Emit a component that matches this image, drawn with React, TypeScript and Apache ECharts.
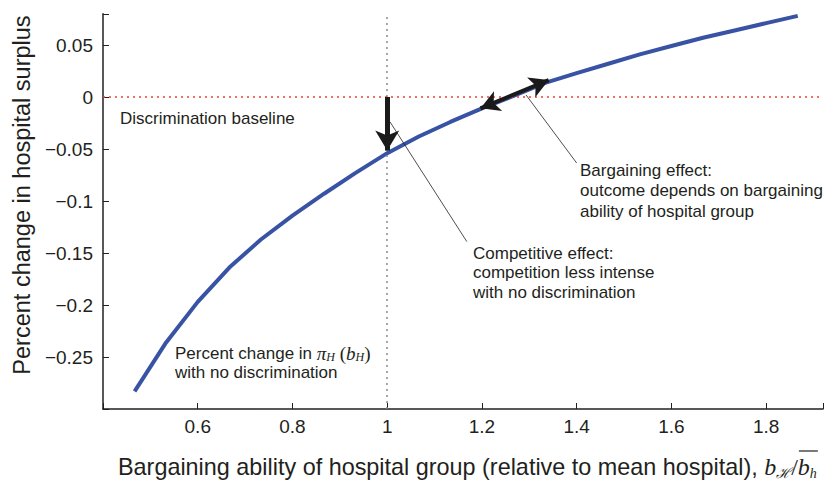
import React, { useEffect, useRef } from "react";
import * as echarts from "echarts";

// Curve: percent change in hospital surplus vs. bargaining ability
const xValues = [0.4667, 0.5333, 0.6, 0.6667, 0.7333, 0.8, 0.8667, 0.9333, 1.0, 1.0667, 1.1333, 1.2, 1.2667, 1.3333, 1.4, 1.4667, 1.5333, 1.6, 1.6667, 1.7333, 1.8, 1.8667];
const yValues = [-0.283, -0.236, -0.197, -0.164, -0.137, -0.114, -0.093, -0.073, -0.054, -0.038, -0.024, -0.011, 0.001, 0.0135, 0.023, 0.032, 0.041, 0.049, 0.057, 0.064, 0.071, 0.078];

// Reference lines
const baselineX = 1;
const baselineY = 0;

// Annotation arrows / leaders (data coordinates)
const competitiveArrow = [[1, 0], [1, -0.0515]];
const bargainingArrow = [[1.197, -0.0109], [1.341, 0.0163]];
const competitiveLeader = [[1.006, -0.024], [1.168, -0.139]];
const bargainingLeader = [[1.293, 0.002], [1.4, -0.0635]];

const yAxisTitle = "Percent change in hospital surplus";
const xAxisTitle = "Bargaining ability of hospital group (relative to mean hospital), ";
const baselineText = "Discrimination baseline";
const competitiveText = ["Competitive effect:", "competition less intense", "with no discrimination"];
const bargainingText = ["Bargaining effect:", "outcome depends on bargaining", "ability of hospital group"];
const curveText = ["Percent change in ", "with no discrimination"];

const INK = "#231f20";
const SANS = "'Liberation Sans', Arial, Helvetica, sans-serif";
const SERIF = "'Liberation Serif', 'DejaVu Serif', serif";

function measure(text: string, font: string): number {
  const c = document.createElement("canvas").getContext("2d");
  if (!c) return text.length * 8;
  c.font = font;
  return c.measureText(text).width;
}

type Seg = { text: string; size: number; family: string; italic?: boolean; dy?: number };

function layoutSegs(segs: Seg[], x0: number, y: number) {
  const out: any[] = [];
  const xs: number[] = [];
  let x = x0;
  for (const s of segs) {
    const font = `${s.italic ? "italic " : ""}${s.size}px ${s.family}`;
    const w = measure(s.text, font);
    xs.push(x);
    out.push({
      type: "text",
      x,
      y: y + (s.dy || 0),
      style: {
        text: s.text,
        fill: INK,
        font,
        align: "left",
        verticalAlign: "middle",
      },
    });
    x += w;
  }
  xs.push(x);
  return { els: out, xs };
}

function fmtNum(v: number): string {
  const s = String(+v.toFixed(3));
  return s.replace("-", "\u2212");
}

export default function App() {
  const ref = useRef<HTMLDivElement>(null);
  useEffect(() => {
    if (!ref.current) return;
    const chart = echarts.init(ref.current, null, { renderer: "svg" });

    const graphics: any[] = [];
    graphics.push({
      type: "text",
      x: 22,
      y: 195,
      rotation: Math.PI / 2,
      style: { text: yAxisTitle, fill: INK, font: `23.5px ${SANS}`, align: "center", verticalAlign: "middle" },
    });
    const xt = layoutSegs(
      [
        { text: xAxisTitle, size: 23.4, family: SANS },
        { text: "b", size: 24, family: SERIF, italic: true },
        { text: "\u210B", size: 14, family: SERIF, italic: true, dy: 6 },
        { text: "/", size: 24, family: SERIF },
        { text: "b", size: 24, family: SERIF, italic: true },
        { text: "h", size: 14, family: SERIF, italic: true, dy: 6 },
      ],
      118,
      467
    );
    graphics.push(...xt.els);
    graphics.push({
      type: "line",
      shape: { x1: xt.xs[4] + 1, y1: 451, x2: xt.xs[6] + 1, y2: 451 },
      style: { stroke: INK, lineWidth: 1.2 },
    });
    graphics.push({
      type: "text",
      x: 120,
      y: 118,
      style: { text: baselineText, fill: INK, font: `17px ${SANS}`, align: "left", verticalAlign: "middle" },
    });
    competitiveText.forEach((t, i) => {
      graphics.push({
        type: "text",
        x: 473,
        y: 253 + i * 19.6,
        style: { text: t, fill: INK, font: `17px ${SANS}`, align: "left", verticalAlign: "middle" },
      });
    });
    bargainingText.forEach((t, i) => {
      graphics.push({
        type: "text",
        x: 580,
        y: 170 + i * 20.5,
        style: { text: t, fill: INK, font: `17px ${SANS}`, align: "left", verticalAlign: "middle" },
      });
    });
    const ct = layoutSegs(
      [
        { text: curveText[0], size: 17, family: SANS },
        { text: "\u03C0", size: 19, family: SERIF, italic: true },
        { text: "H", size: 12, family: SERIF, italic: true, dy: 4 },
        { text: " (", size: 19, family: SERIF },
        { text: "b", size: 19, family: SERIF, italic: true },
        { text: "H", size: 12, family: SERIF, italic: true, dy: 4 },
        { text: ")", size: 19, family: SERIF },
      ],
      175,
      353
    );
    graphics.push(...ct.els);
    graphics.push({
      type: "text",
      x: 175,
      y: 372,
      style: { text: curveText[1], fill: INK, font: `17px ${SANS}`, align: "left", verticalAlign: "middle" },
    });

    const thinLine = { color: INK, width: 0.8, type: "solid" };
    const pairLine = (p: number[][], lineStyle: any, s0: string, s1: string, size: number[]) => [
      { coord: p[0], symbol: s0, symbolSize: size, lineStyle },
      { coord: p[1], symbol: s1, symbolSize: size, lineStyle },
    ];

    chart.setOption({
      animation: false,
      backgroundColor: "#ffffff",
      grid: { left: 103, top: 13.8, width: 722, height: 395.2, containLabel: false },
      xAxis: {
        type: "value",
        min: 0.4,
        max: 1.92,
        interval: 0.2,
        axisLine: { show: true, onZero: false, lineStyle: { color: INK, width: 1.5 } },
        axisTick: { show: true, inside: true, length: 6, lineStyle: { color: INK, width: 1 } },
        splitLine: { show: false },
        axisLabel: {
          margin: 8,
          color: INK,
          fontSize: 19,
          fontFamily: SANS,
          formatter: (v: number) => (v < 0.5 || v > 1.85 ? "" : fmtNum(v)),
        },
      },
      yAxis: {
        type: "value",
        min: -0.3,
        max: 0.08,
        interval: 0.05,
        axisLine: { show: true, onZero: false, lineStyle: { color: INK, width: 1.5 } },
        axisTick: { show: true, inside: true, length: 6, lineStyle: { color: INK, width: 1 } },
        splitLine: { show: false },
        axisLabel: {
          margin: 10,
          color: INK,
          fontSize: 19,
          fontFamily: SANS,
          formatter: (v: number) => (v < -0.29 || v > 0.07 ? "" : fmtNum(v)),
        },
      },
      graphic: graphics,
      series: [
        {
          type: "line",
          data: xValues.map((x, i) => [x, yValues[i]]),
          showSymbol: false,
          symbol: "none",
          lineStyle: { color: "#3953a4", width: 4 },
          z: 3,
          markLine: {
            silent: true,
            animation: false,
            label: { show: false },
            symbol: "none",
            data: [
              [
                { xAxis: baselineX, yAxis: -0.3, symbol: "none", lineStyle: { color: "#8a8a8a", width: 1.5, type: [2, 4] } },
                { xAxis: baselineX, yAxis: 0.08, symbol: "none", lineStyle: { color: "#8a8a8a", width: 1.5, type: [2, 4] } },
              ],
              [
                { xAxis: 0.4, yAxis: baselineY, symbol: "none", lineStyle: { color: "#ee4035", width: 1.5, type: [2, 4] } },
                { xAxis: 1.92, yAxis: baselineY, symbol: "none", lineStyle: { color: "#ee4035", width: 1.5, type: [2, 4] } },
              ],
              pairLine(competitiveLeader, thinLine, "none", "none", [1, 1]),
              pairLine(bargainingLeader, thinLine, "none", "none", [1, 1]),
              pairLine(competitiveArrow, { color: "#1a1a1a", width: 5, type: "solid" }, "none", "arrow", [18, 20]),
              pairLine(bargainingArrow, { color: "#1a1a1a", width: 4, type: "solid" }, "arrow", "arrow", [16, 19]),
            ],
          },
        },
      ],
    });
    return () => chart.dispose();
  }, []);
  return <div ref={ref} style={{ position: "fixed", left: 0, top: 0, width: 826, height: 481 }} />;
}
